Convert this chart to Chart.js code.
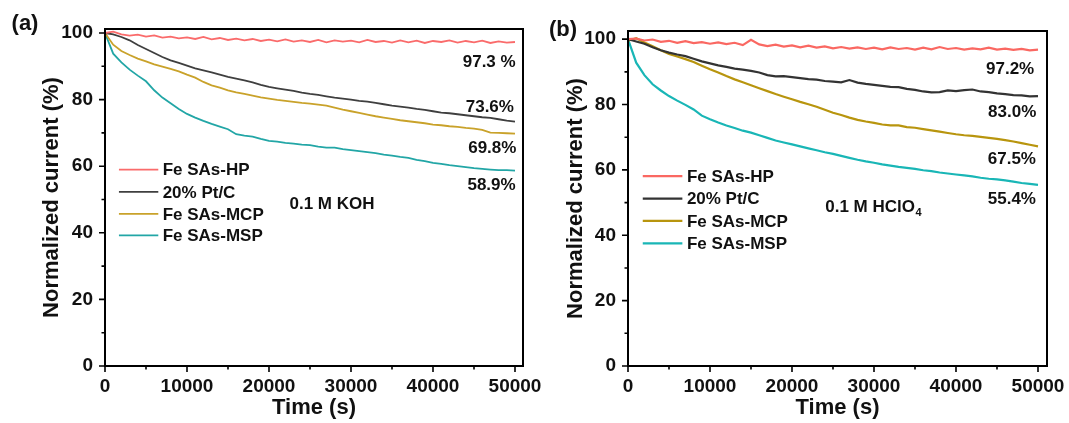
<!DOCTYPE html>
<html>
<head>
<meta charset="utf-8">
<script src="https://cdn.jsdelivr.net/npm/chart.js@4.4.0/dist/chart.umd.min.js"></script>
<style>
  body { margin: 0; background: #fff; }
  #wrap { position: relative; width: 1069px; height: 423px; overflow: hidden; }
  canvas { position: absolute; top: 0; }
</style>
</head>
<body>
<div id="wrap">
  <canvas id="chartA" width="580" height="423" style="left:0"></canvas>
  <canvas id="chartB" width="529" height="423" style="left:540px"></canvas>
</div>
<script>
// time axis, one reading every 1000 s
var time = [];
for (var t = 0; t <= 50000; t += 1000) time.push(t);

var xTickValues = [0, 10000, 20000, 30000, 40000, 50000];
var yTickValues = [0, 20, 40, 60, 80, 100];

var seriesNames = ['Fe SAs-HP', '20% Pt/C', 'Fe SAs-MCP', 'Fe SAs-MSP'];

// (a) 0.1 M KOH
var hpA  = [100, 100.4, 99.6, 99.2, 99.5, 98.9, 99.3, 98.6, 98.9, 98.4, 98.7, 98.2, 98.8, 98.1, 98.5, 97.9, 98.3, 97.8, 98.2, 97.6, 98.0, 97.5, 98.1, 97.4, 97.8, 97.3, 97.9, 97.2, 97.8, 97.4, 97.7, 97.2, 97.9, 97.3, 97.6, 97.1, 97.8, 97.2, 97.7, 97.0, 97.6, 97.3, 97.8, 97.1, 97.6, 97.2, 97.7, 97.0, 97.5, 97.1, 97.3];
var ptA  = [100, 99.6, 98.8, 97.8, 96.4, 95.2, 94.0, 92.8, 91.8, 91.0, 90.2, 89.4, 88.8, 88.2, 87.5, 86.8, 86.3, 85.8, 85.2, 84.4, 83.8, 83.4, 83.0, 82.6, 82.1, 81.7, 81.4, 81.0, 80.6, 80.3, 80.0, 79.6, 79.4, 79.0, 78.6, 78.2, 77.9, 77.6, 77.2, 76.9, 76.5, 76.1, 75.9, 75.6, 75.3, 75.0, 74.7, 74.5, 74.1, 73.7, 73.4];
var mcpA = [100, 96.5, 94.6, 93.4, 92.3, 91.5, 90.6, 89.9, 89.2, 88.5, 87.5, 86.6, 85.3, 84.3, 83.6, 82.8, 82.2, 81.7, 81.2, 80.7, 80.3, 79.9, 79.6, 79.3, 79.0, 78.8, 78.5, 78.2, 77.6, 77.0, 76.5, 76.0, 75.5, 75.0, 74.6, 74.2, 73.8, 73.5, 73.2, 72.9, 72.5, 72.3, 72.0, 71.8, 71.5, 71.3, 70.9, 70.1, 70.0, 69.9, 69.8];
var mspA = [100, 93.8, 91.2, 89.0, 87.2, 85.5, 82.8, 80.6, 78.9, 77.2, 75.7, 74.6, 73.6, 72.7, 71.9, 71.1, 69.6, 69.2, 68.9, 68.2, 67.6, 67.4, 67.0, 66.8, 66.5, 66.3, 65.9, 65.6, 65.6, 65.1, 64.8, 64.5, 64.2, 63.9, 63.5, 63.2, 62.8, 62.5, 61.9, 61.5, 61.0, 60.7, 60.3, 60.0, 59.7, 59.4, 59.2, 59.0, 58.8, 58.8, 58.7];

// (b) 0.1 M HClO4
var hpB  = [100, 100.2, 99.6, 99.9, 99.2, 99.5, 98.9, 99.4, 98.8, 99.1, 98.6, 99.0, 98.5, 98.9, 98.2, 99.8, 98.4, 97.9, 98.3, 97.7, 98.1, 97.5, 98.0, 97.4, 97.8, 97.2, 97.6, 97.1, 97.5, 97.0, 97.4, 96.9, 97.5, 97.0, 97.3, 96.8, 97.4, 96.9, 97.6, 97.0, 97.3, 96.8, 97.2, 96.9, 97.4, 96.8, 97.1, 96.7, 97.0, 96.6, 96.8];
var ptB  = [100, 99.3, 98.6, 97.5, 96.6, 95.9, 95.3, 94.8, 94.0, 93.2, 92.6, 92.0, 91.5, 91.0, 90.7, 90.3, 89.8, 89.0, 88.6, 88.7, 88.4, 88.1, 87.8, 87.6, 87.2, 87.0, 86.8, 87.5, 86.7, 86.3, 86.0, 85.7, 85.4, 85.3, 84.8, 84.5, 84.0, 83.7, 83.8, 84.3, 84.1, 84.4, 84.6, 84.0, 83.8, 83.4, 83.2, 82.9, 82.8, 82.5, 82.6];
var mcpB = [99.5, 100.3, 99.0, 97.8, 96.6, 95.5, 94.7, 93.9, 93.0, 91.9, 90.8, 89.8, 88.7, 87.7, 86.8, 85.9, 85.0, 84.1, 83.2, 82.4, 81.6, 80.8, 80.1, 79.3, 78.4, 77.5, 76.8, 76.0, 75.3, 74.8, 74.4, 73.9, 73.6, 73.6, 73.1, 72.9, 72.5, 72.1, 71.7, 71.3, 70.9, 70.6, 70.4, 70.1, 69.8, 69.5, 69.1, 68.7, 68.2, 67.7, 67.2];
var mspB = [100, 92.8, 89.0, 86.2, 84.3, 82.6, 81.2, 79.9, 78.5, 76.6, 75.5, 74.5, 73.6, 72.8, 72.0, 71.4, 70.6, 69.8, 69.0, 68.4, 67.8, 67.2, 66.6, 66.0, 65.4, 64.9, 64.3, 63.7, 63.1, 62.6, 62.2, 61.7, 61.3, 60.9, 60.6, 60.3, 59.9, 59.6, 59.2, 58.9, 58.6, 58.3, 58.0, 57.6, 57.3, 57.1, 56.8, 56.4, 56.0, 55.7, 55.4];

var retainedA = ['97.3 %', '73.6%', '69.8%', '58.9%'];
var retainedB = ['97.2%', '83.0%', '67.5%', '55.4%'];

var FONT = '"Liberation Sans", Arial, sans-serif';

function xy(vals) {
  return vals.map(function(v, i) { return { x: time[i], y: v }; });
}

function fixedTicks(values) {
  return function(s) { s.ticks = values.map(function(v) { return { value: v }; }); };
}

// frame, outward major/minor ticks, legend, notes and panel letter
var originDeco = {
  id: 'originDeco',
  afterDatasetsDraw: function(chart, args, opts) {
    var ctx = chart.ctx, a = chart.chartArea, x = chart.scales.x, y = chart.scales.y;
    ctx.save();
    ctx.strokeStyle = '#000';
    ctx.lineWidth = 1.6;
    ctx.beginPath();
    for (var v = 0; v <= 50000; v += 5000) {
      var px = x.getPixelForValue(v);
      var len = v % 10000 === 0 ? 6 : 3.5;
      ctx.moveTo(px, a.bottom); ctx.lineTo(px, a.bottom + len);
    }
    for (var w = 0; w <= 100; w += 10) {
      var py = y.getPixelForValue(w);
      var l2 = w % 20 === 0 ? 6 : 3.5;
      ctx.moveTo(a.left, py); ctx.lineTo(a.left - l2, py);
    }
    ctx.stroke();
    ctx.lineWidth = 2;
    ctx.strokeRect(a.left, a.top, a.right - a.left, a.bottom - a.top);

    // legend
    var lg = opts.legend;
    ctx.font = 'bold 17px ' + FONT;
    ctx.textBaseline = 'middle';
    ctx.textAlign = 'left';
    chart.data.datasets.forEach(function(ds, i) {
      var ry = y.getPixelForValue(lg.rows[i]);
      ctx.strokeStyle = ds.borderColor;
      ctx.lineWidth = ds.borderWidth;
      ctx.beginPath();
      ctx.moveTo(x.getPixelForValue(lg.x1), ry);
      ctx.lineTo(x.getPixelForValue(lg.x2), ry);
      ctx.stroke();
      ctx.fillStyle = '#111';
      ctx.fillText(ds.label, x.getPixelForValue(lg.tx), ry + 1);
    });

    // retention labels
    ctx.textAlign = 'right';
    opts.notes.forEach(function(n) {
      ctx.fillText(n.text, x.getPixelForValue(n.x), y.getPixelForValue(n.y) + 1);
    });

    // electrolyte
    var el = opts.electrolyte;
    ctx.textAlign = 'left';
    var ex = x.getPixelForValue(el.x), ey = y.getPixelForValue(el.y) + 1;
    ctx.fillText(el.text, ex, ey);
    if (el.sub) {
      var wd = ctx.measureText(el.text).width;
      ctx.font = 'bold 11px ' + FONT;
      ctx.fillText(el.sub, ex + wd + 0.5, ey + 6);
    }

    // panel letter
    ctx.font = 'bold 22px ' + FONT;
    ctx.textAlign = 'center';
    ctx.fillText(opts.panel.text, opts.panel.x, opts.panel.y);
    ctx.restore();
  }
};

function makeChart(id, names, data, colors, cfg) {
  return new Chart(document.getElementById(id), {
    type: 'line',
    data: {
      datasets: data.map(function(vals, i) {
        return {
          label: names[i],
          data: xy(vals),
          borderColor: colors[i],
          borderWidth: cfg.lineWidth,
          pointRadius: 0,
          tension: 0,
          fill: false
        };
      })
    },
    options: {
      responsive: false,
      animation: false,
      devicePixelRatio: 1,
      layout: { padding: { left: 0, top: cfg.top, right: cfg.right, bottom: 0 } },
      scales: {
        x: {
          type: 'linear',
          min: 0,
          max: cfg.xMax,
          grid: { display: false, drawTicks: false },
          border: { display: false },
          afterBuildTicks: fixedTicks(xTickValues),
          ticks: {
            maxRotation: 0,
            autoSkip: false,
            padding: 9,
            color: '#111',
            callback: function(v) { return String(v); },
            font: { family: FONT, size: 19, weight: 'bold' }
          },
          title: {
            display: true,
            text: 'Time (s)',
            color: '#111',
            padding: { top: 0, bottom: 2 },
            font: { family: FONT, size: 22, weight: 'bold', lineHeight: 1.2 }
          },
          afterFit: function(s) { s.height = 57; s.paddingLeft = 0; s.paddingRight = 0; }
        },
        y: {
          min: 0,
          max: cfg.yMax,
          grid: { display: false, drawTicks: false },
          border: { display: false },
          afterBuildTicks: fixedTicks(yTickValues),
          ticks: {
            padding: 12,
            color: '#111',
            callback: function(v) { return String(v); },
            font: { family: FONT, size: 19, weight: 'bold' }
          },
          title: {
            display: true,
            text: 'Normalized current (%)',
            color: '#111',
            padding: { top: cfg.titlePad, bottom: 0 },
            font: { family: FONT, size: 22, weight: 'bold', lineHeight: 1.2 }
          },
          afterFit: function(s) { s.width = cfg.yWidth; }
        }
      },
      plugins: {
        legend: { display: false },
        tooltip: { enabled: false },
        originDeco: cfg.deco
      }
    },
    plugins: [originDeco]
  });
}

makeChart('chartA', seriesNames, [hpA, ptA, mcpA, mspA],
  ['#FA6B6B', '#3F3F3F', '#C9A22A', '#22A6A6'], {
    top: 29, right: 57, yWidth: 105, xMax: 50976, yMax: 101.2, titlePad: 39, lineWidth: 1.8,
    deco: {
      legend: { x1: 1700, x2: 6500, tx: 7030, rows: [59, 52.3, 45.7, 39.2] },
      notes: [
        { text: retainedA[0], x: 50080, y: 91.4 },
        { text: retainedA[1], x: 49870, y: 78.0 },
        { text: retainedA[2], x: 50170, y: 65.7 },
        { text: retainedA[3], x: 50080, y: 54.5 }
      ],
      electrolyte: { text: '0.1 M KOH', sub: '', x: 22500, y: 49 },
      panel: { text: '(a)', x: 25, y: 24 }
    }
  });

makeChart('chartB', seriesNames, [hpB, ptB, mcpB, mspB],
  ['#FA6862', '#333333', '#B8950E', '#19B6B6'], {
    top: 31, right: 22, yWidth: 88, xMax: 51098, yMax: 102.5, titlePad: 23, lineWidth: 2.2,
    deco: {
      legend: { x1: 1800, x2: 6630, tx: 7180, rows: [58.1, 51.2, 44.4, 37.5] },
      notes: [
        { text: retainedB[0], x: 49540, y: 91.1 },
        { text: retainedB[1], x: 49790, y: 77.8 },
        { text: retainedB[2], x: 49750, y: 63.4 },
        { text: retainedB[3], x: 49750, y: 51.2 }
      ],
      electrolyte: { text: '0.1 M HClO', sub: '4', x: 24050, y: 48.9 },
      panel: { text: '(b)', x: 23, y: 30 }
    }
  });
</script>
</body>
</html>
